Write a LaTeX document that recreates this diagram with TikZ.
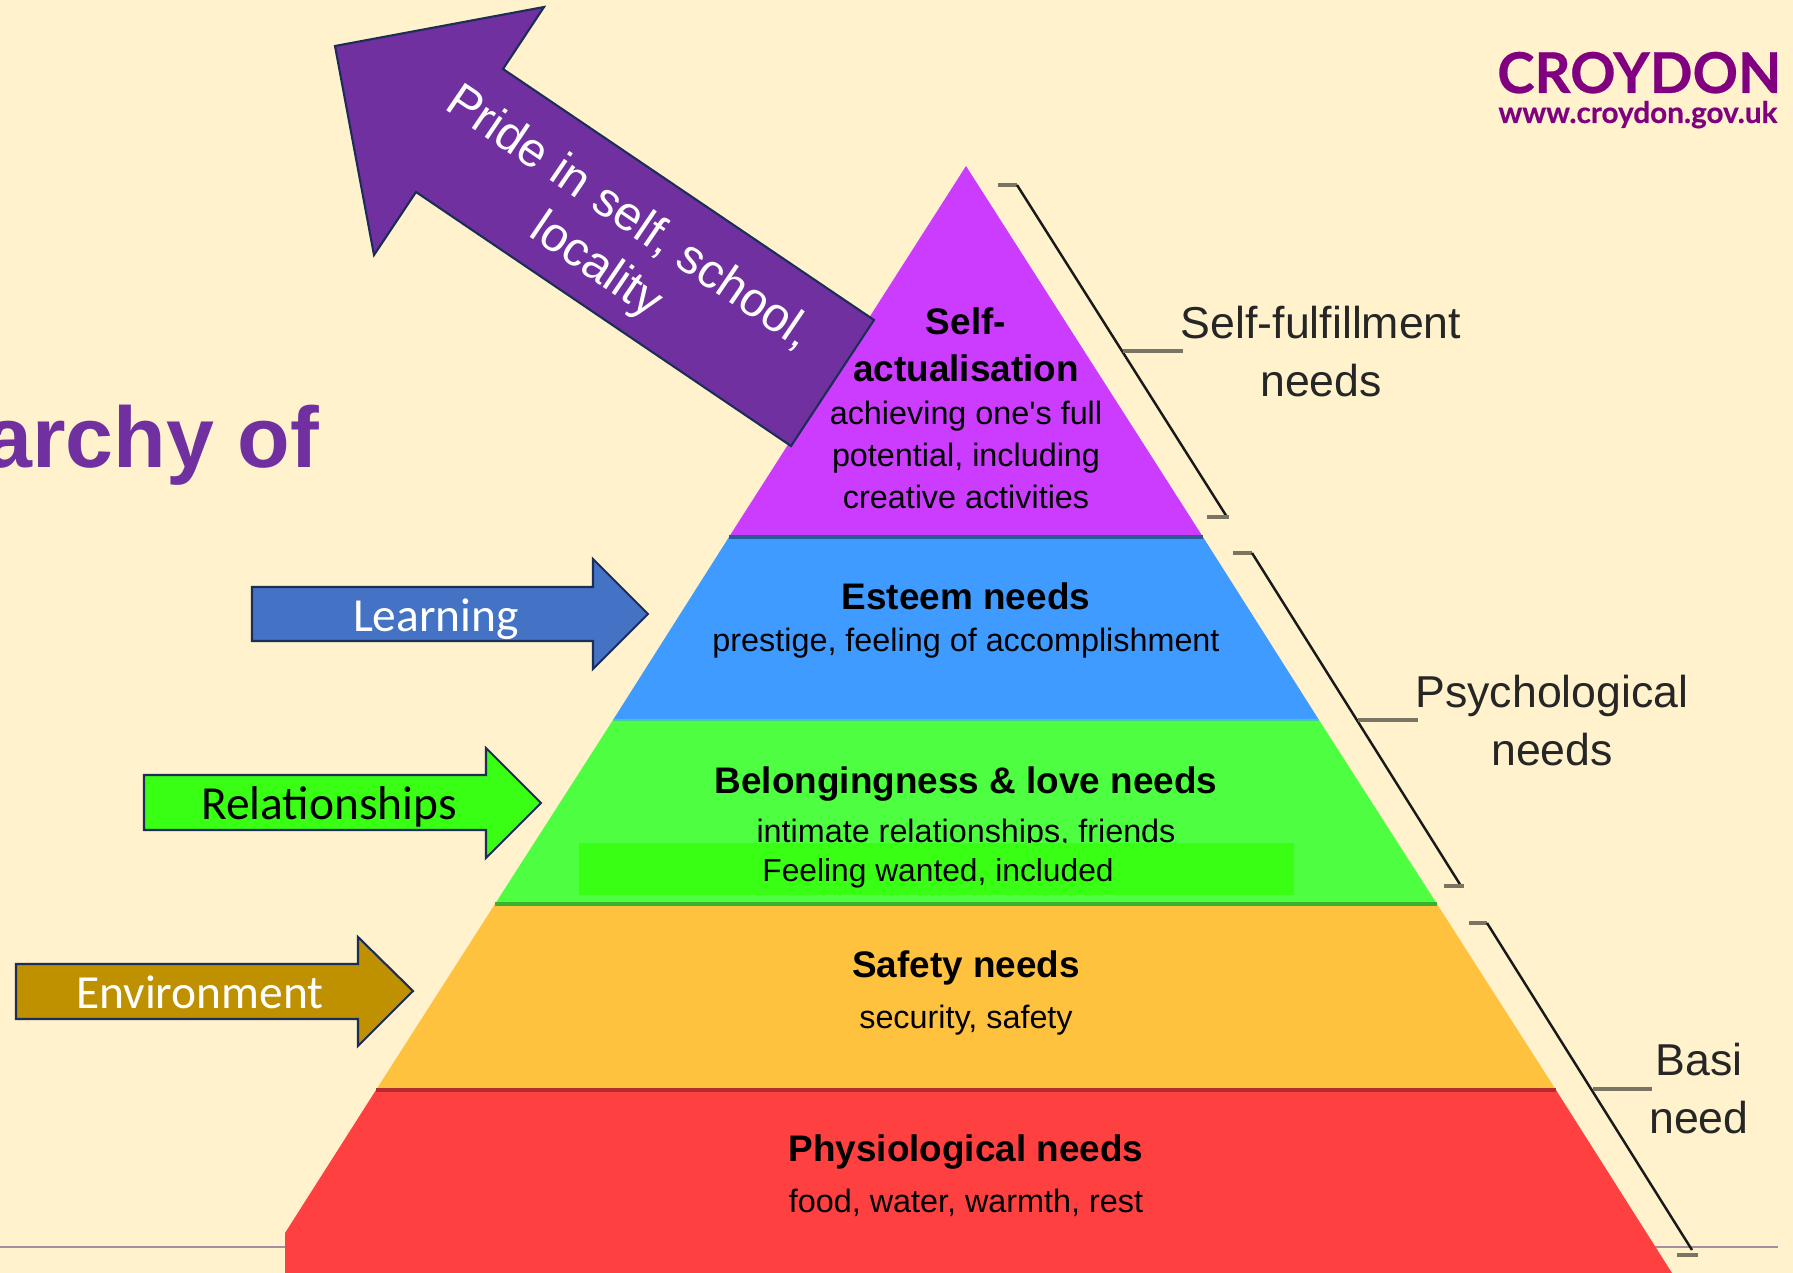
\documentclass[tikz,border=0pt]{standalone}
\usepackage{fontspec}
\setmainfont{Liberation Sans}
\newfontfamily\calfont{Carlito}
\newfontfamily\logofont{Lato}[BoldFeatures={FakeBold=0.5}]
\definecolor{cpaper}{RGB}{255,242,204}
\definecolor{cpurple}{RGB}{112,48,160}
\definecolor{cnavy}{RGB}{28,46,88}
\definecolor{cviolet}{RGB}{204,60,255}
\definecolor{cblue}{RGB}{63,155,255}
\definecolor{cslate}{RGB}{68,114,196}
\definecolor{cgreen}{RGB}{77,255,64}
\definecolor{cbright}{RGB}{57,255,20}
\definecolor{corange}{RGB}{255,194,63}
\definecolor{cred}{RGB}{255,64,64}
\definecolor{cgold}{RGB}{191,144,0}
\definecolor{clogo}{RGB}{128,0,128}
\definecolor{cstub}{RGB}{122,116,98}
\definecolor{crule}{RGB}{168,140,160}

\begin{document}
\begin{tikzpicture}[x=0.01cm, y=-0.01cm,
    band/.style={line width=0.9pt},
    head/.style={font=\bfseries\fontsize{10.5}{12.5}\selectfont, inner sep=0pt, align=center},
    body/.style={font=\fontsize{9.2}{11.5}\selectfont, inner sep=0pt, align=center},
    side/.style={font=\fontsize{12.7}{16.5}\selectfont, text=black!85, inner sep=0pt, align=center},
    sign/.style={draw=cnavy, line width=0.6pt},
    signtext/.style={font=\calfont\fontsize{13.5}{16}\selectfont, inner sep=0pt},
    brace/.style={line width=0.7pt, black!90},
    stub/.style={line width=1.1pt, cstub},
  ]
  \useasboundingbox (0,0) rectangle (1793,1273);
  \fill[cpaper] (0,0) rectangle (1793,1273);
  % footer rule
  \draw[crule, line width=0.6pt] (0,1247) -- (1778,1247);

  % pyramid
  \fill[cviolet] (966,166) -- (1203,537) -- (729,537) -- cycle;
  \fill[cblue] (729,537) -- (1203,537) -- (1319,720) -- (613,720) -- cycle;
  \fill[cgreen] (613,720) -- (1319,720) -- (1437,904) -- (495,904) -- cycle;
  \fill[corange] (495,904) -- (1437,904) -- (1556,1090) -- (376,1090) -- cycle;
  \fill[cred] (376,1090) -- (1556,1090) -- (1672,1273) -- (285,1273) -- (285,1233) -- cycle;
  \draw[band, draw=cnavy!60!cblue] (729,537) -- (1203,537);
  \draw[band, draw=cblue!50!cgreen, line width=0.5pt] (613,720) -- (1319,720);
  \draw[band, draw=cgreen!70!black] (495,904) -- (1437,904);
  \draw[band, draw=cred!70!black] (376,1090) -- (1556,1090);

  % Self-actualisation
  \node[head] (selfa) at (966,321) {Self-};
  \node[head] (selfb) at (966,368) {actualisation};
  \node[body] (selfc) at (966,416) {achieving one\textquotesingle s full};
  \node[body] (selfd) at (966,458) {potential, including};
  \node[body] (selfe) at (966,497) {creative activities};
  % Esteem
  \node[head] (esteem) at (966,596) {Esteem needs};
  \node[body] (esteemb) at (966,643) {prestige, feeling of accomplishment};
  % Belonging
  \node[head] (belong) at (966,784) {Belongingness \& love needs};
  \node[body] (belongb) at (966,834) {intimate relationships, friends};
  \fill[cbright] (579,843) rectangle (1294,895);
  \node[body, font=\fontsize{9.03}{11}\selectfont] (wanted) at (938,873) {Feeling wanted, included};
  % Safety
  \node[head] (safety) at (966,968) {Safety needs};
  \node[body] (safetyb) at (966,1020) {security, safety};
  % Physiological
  \node[head] (physio) at (966,1152) {Physiological needs};
  \node[body] (physiob) at (966,1203) {food, water, warmth, rest};

  % brackets
  \draw[stub] (998,185) -- (1017,185);
  \draw[brace] (1017,185) -- (1227,517);
  \draw[stub] (1207,517) -- (1229,517);
  \draw[stub] (1123,351) -- (1183,351);
  \draw[stub] (1233,553) -- (1252,553);
  \draw[brace] (1252,553) -- (1461,886);
  \draw[stub] (1444,886) -- (1464,886);
  \draw[stub] (1358,720) -- (1418,720);
  \draw[stub] (1469,923) -- (1487,923);
  \draw[brace] (1487,923) -- (1692,1250);
  \draw[stub] (1677,1255) -- (1698,1255);
  \draw[stub] (1593,1089) -- (1652,1089);
  \node[side] (fulfil) at (1321,352) {Self-fulfillment\\needs};
  \node[side] (psych) at (1552,721) {Psychological\\needs};
  \node[side] (basic) at (1699,1089) {Basi\\need};

  % Pride
  \draw[sign, fill=cpurple] (544,7) -- (335,46) -- (374,255) -- (416,192) -- (791,446) -- (874,320) -- (503,69) -- cycle;
  \node[font=\fontsize{13.7}{16.5}\selectfont, text=white, rotate=-34.2, inner sep=0pt, align=center] (pride) at (612,243) {Pride in self, school,\\locality};
  % Learning
  \draw[sign, fill=cslate] (252,587) -- (593,587) -- (593,559) -- (648,614) -- (593,669) -- (593,641) -- (252,641) -- cycle;
  \node[signtext, text=white] (learning) at (436,619) {Learning};
  % Relationships
  \draw[sign, fill=cbright] (144,775) -- (486,775) -- (486,748) -- (541,803) -- (486,858) -- (486,830) -- (144,830) -- cycle;
  \node[signtext, text=black] (relations) at (329,807) {Relationships};
  % Environment
  \draw[sign, fill=cgold] (16,964) -- (358,964) -- (358,937) -- (413,991) -- (358,1046) -- (358,1019) -- (16,1019) -- cycle;
  \node[signtext, text=white] (environ) at (200,992) {Environment};

  % title
  \node[font=\bfseries\fontsize{24.5}{30}\selectfont, text=cpurple, anchor=base east, inner sep=0pt] (title) at (320,468) {archy of};
  % logo
  \node[font=\logofont\bfseries\fontsize{16}{20}\selectfont, text=clogo, anchor=base east, inner sep=0pt] (logo) at (1782,93) {CROYDON};
  \node[font=\logofont\bfseries\fontsize{8.45}{10}\selectfont, text=clogo, anchor=base east, inner sep=0pt] (site) at (1778,123) {www.croydon.gov.uk};
\end{tikzpicture}
\end{document}
